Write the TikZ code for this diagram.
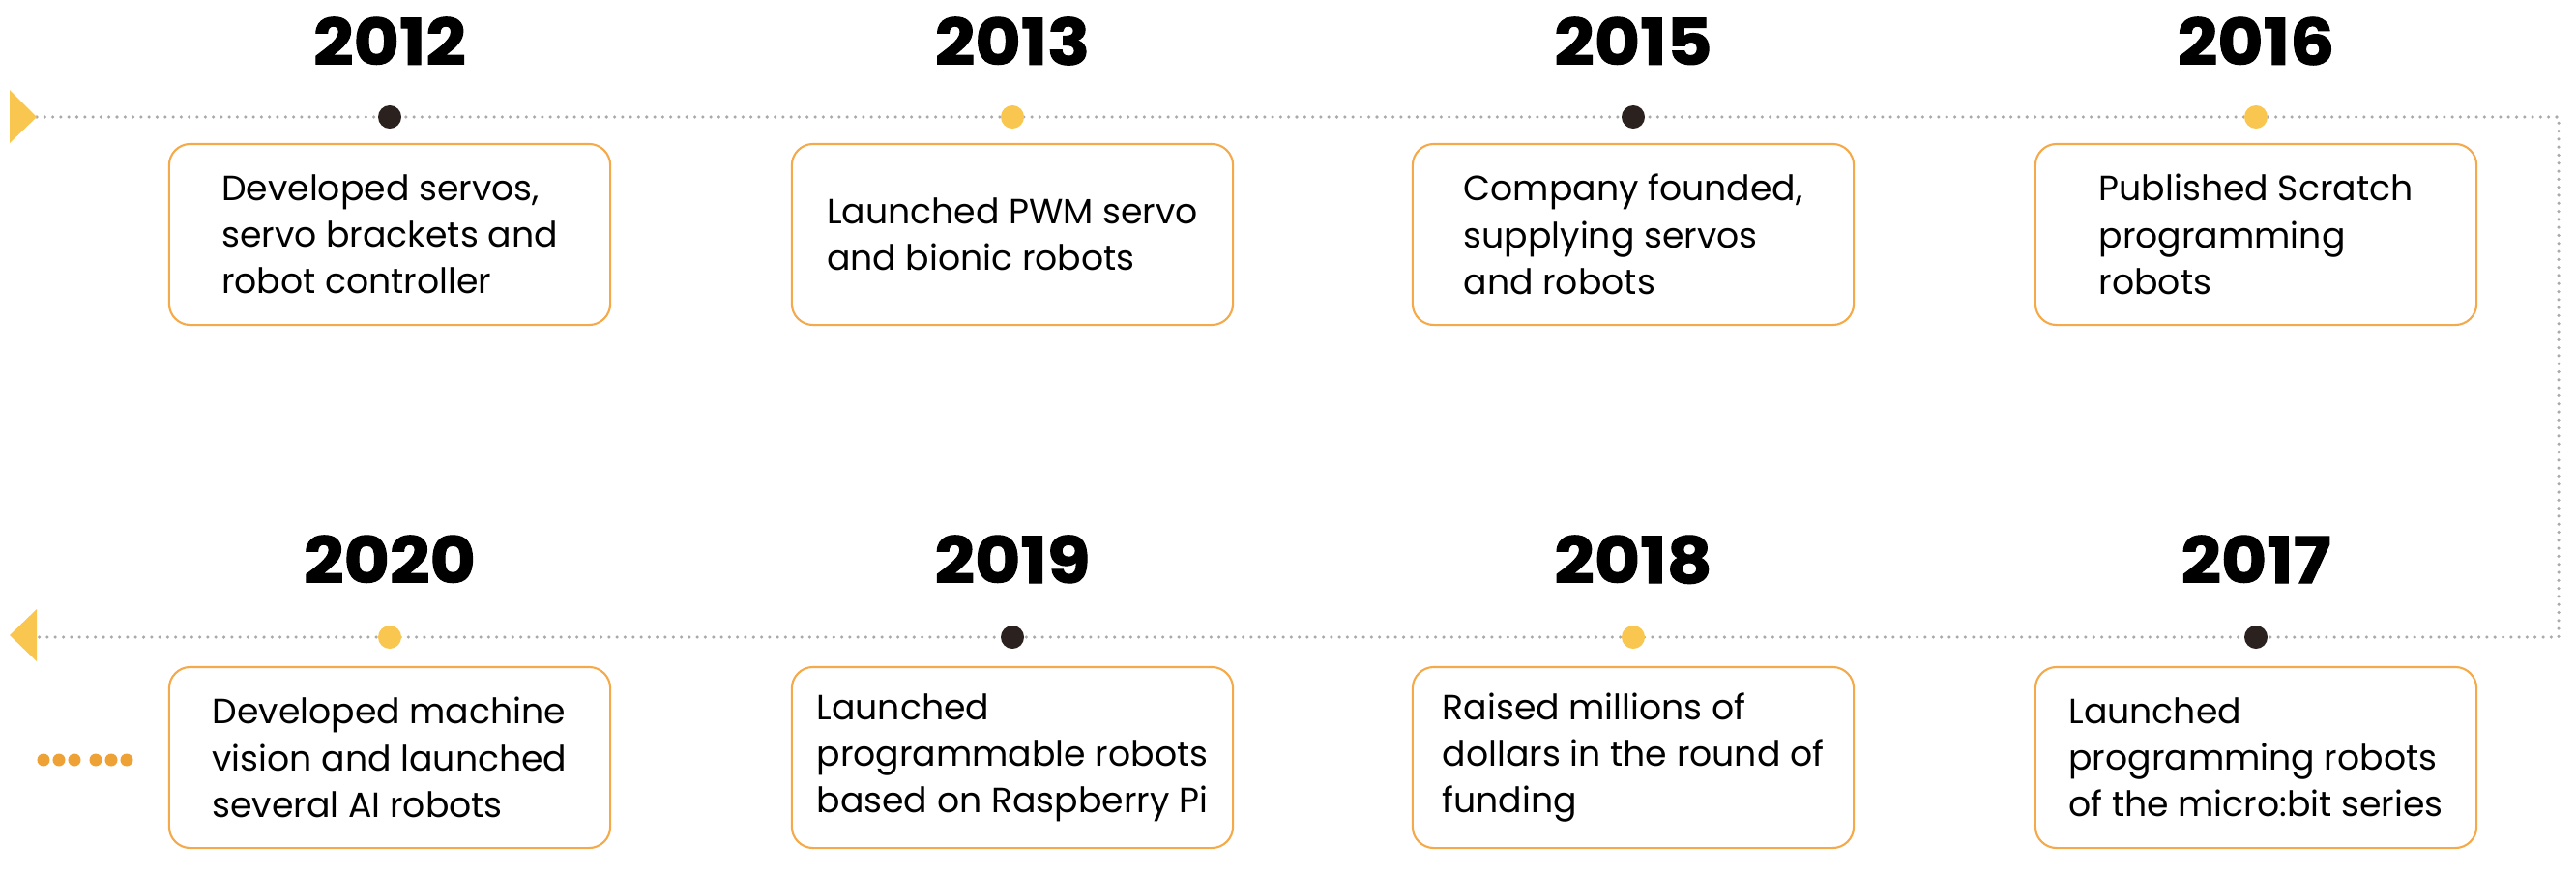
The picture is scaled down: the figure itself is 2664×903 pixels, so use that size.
\documentclass[tikz,border=0pt]{standalone}
\usepackage{fontspec}
\setmainfont{Poppins}
\newfontfamily\yearfont{Poppins}[FakeStretch=1.1,FakeBold=1.5]
\definecolor{dotyel}{HTML}{F9C74F}
\definecolor{dotdark}{HTML}{2B2220}
\definecolor{boxor}{HTML}{F4AA4A}
\definecolor{dotor}{HTML}{EEA236}
\definecolor{linegray}{HTML}{AAAAAA}
\begin{document}
\begin{tikzpicture}[x=0.01cm,y=-0.01cm]
\tikzset{
 evbox/.style={draw=boxor, line width=0.6pt, rounded corners=0.22cm, minimum width=4.56cm, minimum height=1.87cm, align=left, font=\fontsize{10.3}{13.7}\selectfont, inner sep=0pt},
 yr/.style={font=\yearfont\fontsize{18.8}{20}\selectfont\bfseries, anchor=base, inner sep=0pt},
 ydot/.style={circle, fill=dotyel, minimum size=0.24cm, inner sep=0pt},
 kdot/.style={circle, fill=dotdark, minimum size=0.24cm, inner sep=0pt},
 tl/.style={draw=linegray, line width=1pt, line cap=round, dash pattern=on 0pt off 2.36pt},
}
\useasboundingbox (0,0) rectangle (2664,903);
% timeline path
\coordinate (tstart) at (38,121);
\coordinate (tcorner) at (2646,121);
\coordinate (bcorner) at (2646,659);
\coordinate (bend) at (38,659);
\draw[tl] (tstart) -- (tcorner) -- (bcorner) -- (bend);
% arrow triangles
\fill[dotyel] (10,93) -- (38,121) -- (10,148) -- cycle;
\fill[dotyel] (38,630) -- (10,657) -- (38,684) -- cycle;
% top row
\node[yr] (y2012) at (403,67) {2012};
\node[yr] (y2013) at (1047,67) {2013};
\node[yr] (y2015) at (1689,67) {2015};
\node[yr] (y2016) at (2333,67) {2016};
\node[kdot] (d2012) at (403,121) {};
\node[ydot] (d2013) at (1047,121) {};
\node[kdot] (d2015) at (1689,121) {};
\node[ydot] (d2016) at (2333,121) {};
\node[evbox] (b2012) at (403,242.5) {Developed servos,\\servo brackets and\\robot controller};
\node[evbox] (b2013) at (1047,242.5) {Launched PWM servo\\and bionic robots};
\node[evbox] (b2015) at (1689,242.5) {Company founded,\\supplying servos\\and robots};
\node[evbox] (b2016) at (2333,242.5) {Published Scratch\\programming\\robots};
% bottom row
\node[yr] (y2020) at (403,603) {2020};
\node[yr] (y2019) at (1047,603) {2019};
\node[yr] (y2018) at (1689,603) {2018};
\node[yr] (y2017) at (2333,603) {2017};
\node[ydot] (d2020) at (403,659) {};
\node[kdot] (d2019) at (1047,659) {};
\node[ydot] (d2018) at (1689,659) {};
\node[kdot] (d2017) at (2333,659) {};
\node[evbox] (b2020) at (403,783.5) {Developed machine\\vision and launched\\several AI robots};
\node[evbox] (b2019) at (1047,783.5) {Launched\\programmable robots\\based on Raspberry Pi};
\node[evbox] (b2018) at (1689,783.5) {Raised millions of\\dollars in the round of\\funding};
\node[evbox] (b2017) at (2333,783.5) {Launched\\programming robots\\of the micro:bit series};
% ellipsis dots
\foreach \xx in {45,61,77,99,115,131} \fill[dotor] (\xx,786) circle[radius=0.065cm];
\end{tikzpicture}
\end{document}
